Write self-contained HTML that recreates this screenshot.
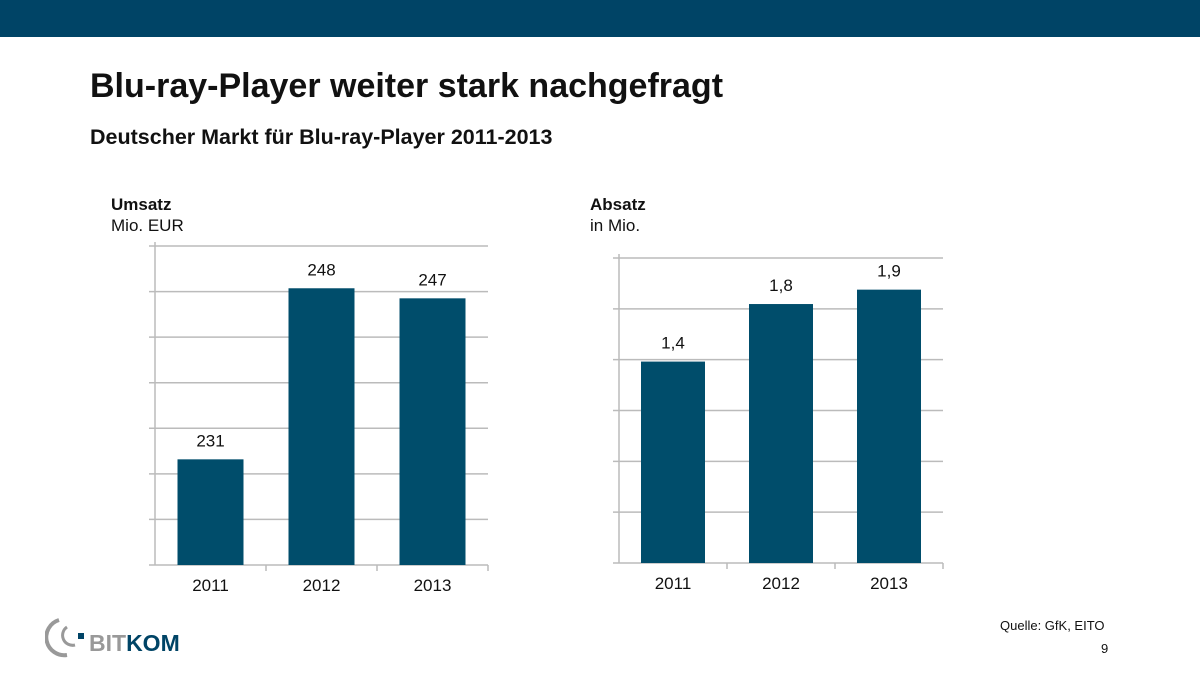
<!DOCTYPE html>
<html><head><meta charset="utf-8"><style>
body{margin:0;width:1200px;height:675px;background:#fff;font-family:"Liberation Sans",sans-serif;position:relative;overflow:hidden}
.t{position:absolute;white-space:nowrap}
</style></head><body>
<div style="position:absolute;left:0;top:0;width:1200px;height:37px;background:#004466"></div>
<div class="t" style="left:90px;top:67px;font-size:34px;font-weight:bold;color:#111">Blu-ray-Player weiter stark nachgefragt</div>
<div class="t" style="left:90px;top:125px;font-size:21.5px;font-weight:bold;color:#111">Deutscher Markt für Blu-ray-Player 2011-2013</div>
<div class="t" style="left:111px;top:195px;font-size:17px;font-weight:bold;color:#111">Umsatz</div>
<div class="t" style="left:111px;top:216px;font-size:17px;color:#111">Mio. EUR</div>
<div class="t" style="left:590px;top:195px;font-size:17px;font-weight:bold;color:#111">Absatz</div>
<div class="t" style="left:590px;top:216px;font-size:17px;color:#111">in Mio.</div>
<div class="t" style="left:1000px;top:618px;font-size:13px;color:#111">Quelle: GfK, EITO</div>
<div class="t" style="left:1101px;top:641px;font-size:13px;color:#111">9</div>
<svg style="position:absolute;left:45px;top:615px" width="150" height="45">
<path d="M14 5 A18 18 0 0 0 22 40" fill="none" stroke="#999" stroke-width="4"/>
<path d="M22 12 A10 10 0 0 0 30 30" fill="none" stroke="#999" stroke-width="3"/>
<rect x="33" y="18" width="6" height="6" fill="#004466"/>
<text x="44" y="36" font-size="23" font-weight="bold" fill="#999" font-family="Liberation Sans,sans-serif">BIT<tspan fill="#004466">KOM</tspan></text>
</svg>
<svg id="chart" width="1200" height="675" style="position:absolute;left:0;top:0"></svg>
<script>
const categories=["2011","2012","2013"];
const umsatzValues=[231,248,247];
const umsatzLabels=["231","248","247"];
const absatzValues=[1.4,1.8,1.9];
const absatzLabels=["1,4","1,8","1,9"];
const NS="http://www.w3.org/2000/svg";
const svg=document.getElementById('chart');
function mk(t,a){const e=document.createElementNS(NS,t);for(const k in a)e.setAttribute(k,a[k]);svg.appendChild(e);return e;}
function chart(p,vals,labels,prefix){
  const y=v=>p.bottom-(v-p.min)/(p.max-p.min)*(p.bottom-p.top);
  const cw=(p.right-p.left)/categories.length;
  for(let i=0;i<=p.grid;i++){
    const gy=p.top+i*(p.bottom-p.top)/p.grid;
    const l=mk('line',{x1:p.left-6,x2:p.right,y1:gy,y2:gy,stroke:'#bbb','stroke-width':1.5});
    
    
  }
  const ax=mk('line',{x1:p.left,x2:p.left,y1:p.top-4,y2:p.bottom,stroke:'#bbb','stroke-width':1.5});
  
  
  for(let i=1;i<=categories.length;i++){
    const t=mk('line',{x1:p.left+i*cw,x2:p.left+i*cw,y1:p.bottom,y2:p.bottom+6,stroke:'#bbb','stroke-width':1.5});
    
    
  }
  categories.forEach((c,i)=>{
    const cx=p.left+cw*(i+0.5);
    const b=mk('rect',{x:cx-p.bw/2,y:y(vals[i]),width:p.bw,height:p.bottom-y(vals[i]),fill:'#004d6b'});
    
    
    const v=mk('text',{x:cx,y:y(vals[i])-13,'text-anchor':'middle','font-size':17,fill:'#111','font-family':'Liberation Sans,sans-serif'});
    v.textContent=labels[i];
    
    
    const x=mk('text',{x:cx,y:p.bottom+26,'text-anchor':'middle','font-size':17,fill:'#111','font-family':'Liberation Sans,sans-serif'});
    x.textContent=c;
    
    
  });
}
chart({left:155,right:488,top:246,bottom:565,min:220.5,max:252.2,grid:7,bw:66},umsatzValues,umsatzLabels,'umsatz');
chart({left:619,right:943,top:258,bottom:563,min:0,max:2.12,grid:6,bw:64},absatzValues,absatzLabels,'absatz');
</script>
</body></html>
